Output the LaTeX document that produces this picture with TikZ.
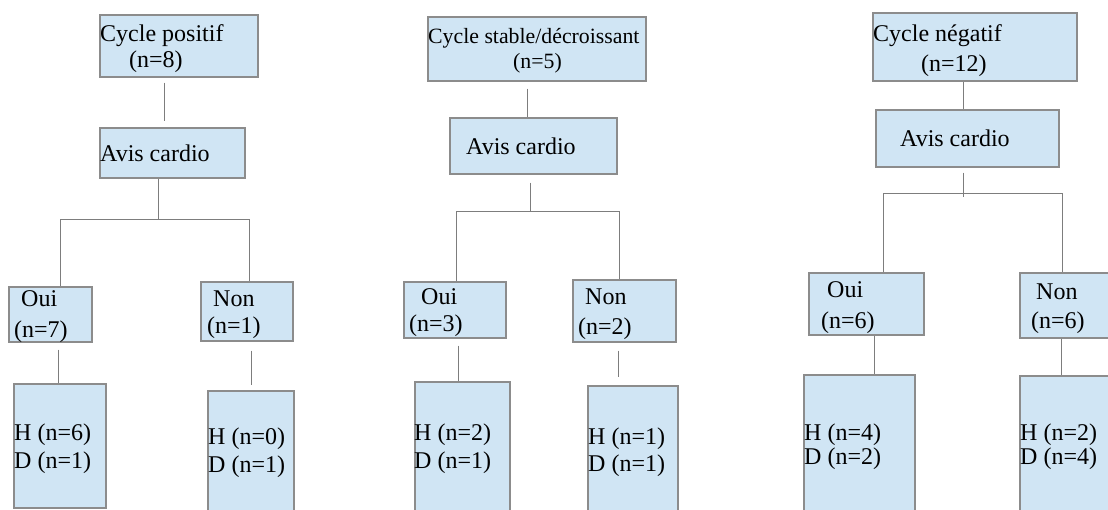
\documentclass[tikz,border=0pt]{standalone}
\usepackage{fontspec}
\setmainfont{Liberation Serif}
\definecolor{boxfill}{RGB}{208,229,244}
\definecolor{boxline}{RGB}{140,140,140}
\definecolor{linkline}{RGB}{125,125,125}
\begin{document}
\begin{tikzpicture}[x=1pt,y=-1pt,
  box/.style={draw=boxline, line width=1.2pt, fill=boxfill, inner sep=0pt, anchor=center},
  txt/.style={anchor=base west, inner sep=0pt, font=\fontsize{24}{28}\selectfont},
  smalltxt/.style={txt, font=\fontsize{21.8}{26}\selectfont},
  link/.style={draw=linkline, line width=1pt}]
\useasboundingbox (0,0) rectangle (1108,509);
\clip (0,0) rectangle (1108,509);

% ---------- first tree: positive cycle ----------
\node[box, minimum width=158pt, minimum height=62pt] (top1) at (179,46) {};
\node[box, minimum width=145pt, minimum height=50pt] (avis1) at (172.5,153) {};
\node[box, minimum width=83pt, minimum height=55pt] (oui1) at (50.5,314.5) {};
\node[box, minimum width=92pt, minimum height=59pt] (non1) at (247,311.5) {};
\node[box, minimum width=92pt, minimum height=124pt] (hd1a) at (60,446) {};
\node[box, minimum width=86pt, minimum height=130pt] (hd1b) at (251,456) {};

\node[txt] (top1a) at (100,41) {Cycle positif};
\node[txt] (top1b) at (129,67) {(n=8)};
\node[txt] (avis1t) at (100,161) {Avis cardio};
\node[txt] (oui1a) at (21,306) {Oui};
\node[txt] (oui1b) at (14,337) {(n=7)};
\node[txt] (non1a) at (213,306) {Non};
\node[txt] (non1b) at (207,333) {(n=1)};
\node[txt] (hd1a1) at (14,440) {H (n=6)};
\node[txt] (hd1a2) at (14,468) {D (n=1)};
\node[txt] (hd1b1) at (208,444) {H (n=0)};
\node[txt] (hd1b2) at (208,472) {D (n=1)};

\coordinate (k1) at (164,0);
\coordinate (t1) at (158,219);
\coordinate (l1) at (60,219);
\coordinate (r1) at (249,219);
\coordinate (m1) at (58,0);
\coordinate (n1) at (251,0);
\draw[link, shorten <=5pt, shorten >=6pt] (top1.south -| k1) -- (avis1.north -| k1);
\draw[link] (avis1.south -| t1) -- (t1);
\draw[link] (oui1.north -| l1) -- (l1) -- (r1) -- (non1.north -| r1);
\draw[link, shorten <=7pt] (oui1.south -| m1) -- (hd1a.north -| m1);
\draw[link, shorten <=9pt, shorten >=5pt] (non1.south -| n1) -- (hd1b.north -| n1);

% ---------- second tree: stable / decreasing cycle ----------
\node[box, minimum width=218pt, minimum height=64pt] (top2) at (537,49) {};
\node[box, minimum width=167pt, minimum height=56pt] (avis2) at (533.5,146) {};
\node[box, minimum width=102pt, minimum height=56pt] (oui2) at (455,310) {};
\node[box, minimum width=103pt, minimum height=62pt] (non2) at (624.5,311) {};
\node[box, minimum width=95pt, minimum height=133pt] (hd2a) at (462.5,448.5) {};
\node[box, minimum width=90pt, minimum height=129pt] (hd2b) at (633,450.5) {};

\node[smalltxt] (top2a) at (428,43) {Cycle stable/décroissant};
\node[smalltxt] (top2b) at (513,68) {(n=5)};
\node[txt] (avis2t) at (466,154) {Avis cardio};
\node[txt] (oui2a) at (421,304) {Oui};
\node[txt] (oui2b) at (409,331) {(n=3)};
\node[txt] (non2a) at (585,304) {Non};
\node[txt] (non2b) at (578,334) {(n=2)};
\node[txt] (hd2a1) at (414,440) {H (n=2)};
\node[txt] (hd2a2) at (414,468) {D (n=1)};
\node[txt] (hd2b1) at (588,444) {H (n=1)};
\node[txt] (hd2b2) at (588,471) {D (n=1)};

\coordinate (k2) at (527,0);
\coordinate (t2) at (530,211);
\coordinate (l2) at (456,211);
\coordinate (r2) at (619,211);
\coordinate (m2) at (458,0);
\coordinate (n2) at (618,0);
\draw[link, shorten <=7pt] (top2.south -| k2) -- (avis2.north -| k2);
\draw[link, shorten <=8pt] (avis2.south -| t2) -- (t2);
\draw[link] (oui2.north -| l2) -- (l2) -- (r2) -- (non2.north -| r2);
\draw[link, shorten <=7pt] (oui2.south -| m2) -- (hd2a.north -| m2);
\draw[link, shorten <=8pt, shorten >=8pt] (non2.south -| n2) -- (hd2b.north -| n2);

% ---------- third tree: negative cycle ----------
\node[box, minimum width=204pt, minimum height=68pt] (top3) at (975,47) {};
\node[box, minimum width=183pt, minimum height=57pt] (avis3) at (967.5,138.5) {};
\node[box, minimum width=115pt, minimum height=62pt] (oui3) at (866.5,304) {};
\node[box, minimum width=95pt, minimum height=65pt] (non3) at (1067.5,305.5) {};
\node[box, minimum width=111pt, minimum height=140pt] (hd3a) at (859.5,445) {};
\node[box, minimum width=95pt, minimum height=139pt] (hd3b) at (1067.5,445.5) {};

\node[txt] (top3a) at (873,41) {Cycle négatif};
\node[txt] (top3b) at (921,71) {(n=12)};
\node[txt] (avis3t) at (900,146) {Avis cardio};
\node[txt] (oui3a) at (827,297) {Oui};
\node[txt] (oui3b) at (821,328) {(n=6)};
\node[txt] (non3a) at (1036,299) {Non};
\node[txt] (non3b) at (1031,328) {(n=6)};
\node[txt] (hd3a1) at (804,440) {H (n=4)};
\node[txt] (hd3a2) at (804,464) {D (n=2)};
\node[txt] (hd3b1) at (1020,440) {H (n=2)};
\node[txt] (hd3b2) at (1020,464) {D (n=4)};

\coordinate (k3) at (963,0);
\coordinate (t3) at (963,197);
\coordinate (l3) at (883,193);
\coordinate (r3) at (1062,193);
\coordinate (m3) at (874,0);
\coordinate (n3) at (1061,0);
\draw[link] (top3.south -| k3) -- (avis3.north -| k3);
\draw[link, shorten <=5pt] (avis3.south -| t3) -- (t3);
\draw[link] (oui3.north -| l3) -- (l3) -- (r3) -- (non3.north -| r3);
\draw[link] (oui3.south -| m3) -- (hd3a.north -| m3);
\draw[link] (non3.south -| n3) -- (hd3b.north -| n3);
\end{tikzpicture}
\end{document}
